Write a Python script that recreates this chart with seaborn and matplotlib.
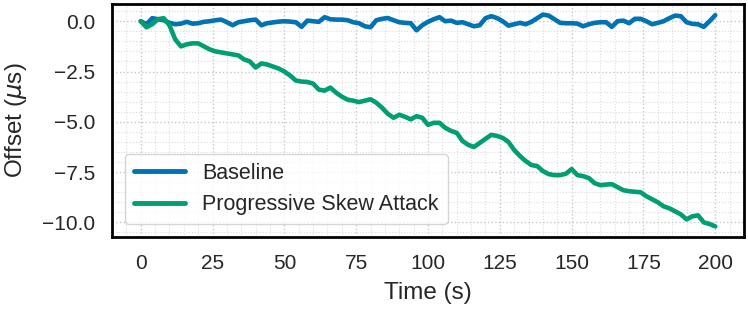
import numpy as np
import pandas as pd
import matplotlib
matplotlib.use("Agg")
import matplotlib.pyplot as plt
import seaborn as sns
from matplotlib.ticker import AutoMinorLocator

# --- DATA (one sample every 2 s) ---
time_s = list(range(0, 201, 2))

baseline = [
    0.0, -0.15, 0.15, 0.1, 0.05, -0.08, -0.15, -0.12, -0.03, -0.12,
    -0.1, -0.03, 0.0, 0.05, 0.08, -0.05, -0.2, -0.05, 0.0, 0.05,
    0.08, -0.2, -0.1, -0.06, -0.02, 0.0, -0.02, -0.05, -0.28, 0.03,
    0.0, -0.03, 0.2, 0.1, 0.08, 0.08, 0.05, -0.05, -0.1, -0.25,
    -0.3, 0.05, 0.12, 0.16, 0.05, -0.05, -0.08, -0.1, -0.45, -0.2,
    -0.03, 0.1, 0.2, 0.0, 0.03, -0.08, -0.05, -0.15, -0.25, -0.2,
    0.15, 0.25, 0.16, 0.0, -0.22, -0.15, -0.08, -0.15, -0.03, 0.15,
    0.33, 0.28, 0.1, -0.08, -0.1, -0.1, -0.12, -0.25, -0.15, -0.08,
    -0.05, -0.05, -0.28, 0.0, 0.03, -0.1, 0.12, 0.12, 0.0, -0.15,
    -0.08, 0.0, 0.15, 0.28, 0.25, -0.05, -0.13, -0.15, -0.28, 0.0,
    0.3,
]

skew_attack = [
    0.0, -0.3, -0.15, 0.1, 0.15, -0.2, -0.9, -1.25, -1.15, -1.1,
    -1.1, -1.25, -1.4, -1.5, -1.55, -1.6, -1.65, -1.7, -1.9, -2.0,
    -2.3, -2.1, -2.15, -2.25, -2.35, -2.5, -2.7, -2.95, -3.0, -3.02,
    -3.1, -3.4, -3.45, -3.3, -3.55, -3.75, -3.9, -3.95, -4.02, -3.95,
    -3.88, -4.05, -4.3, -4.6, -4.8, -4.65, -4.75, -4.88, -4.72, -4.8,
    -5.15, -5.05, -5.05, -5.3, -5.45, -5.55, -5.95, -6.15, -6.25, -6.05,
    -5.85, -5.65, -5.7, -5.8, -6.0, -6.4, -6.7, -6.95, -7.15, -7.2,
    -7.45, -7.6, -7.65, -7.65, -7.58, -7.35, -7.65, -7.7, -7.8, -8.05,
    -8.15, -8.12, -8.1, -8.25, -8.4, -8.45, -8.48, -8.5, -8.7, -8.85,
    -9.0, -9.2, -9.3, -9.45, -9.6, -9.85, -9.7, -9.65, -10.0, -10.08,
    -10.2,
]

series_names = ["Baseline", "Progressive Skew Attack"]

df = pd.concat([
    pd.DataFrame({"Time (s)": time_s, "Offset": baseline, "Series": series_names[0]}),
    pd.DataFrame({"Time (s)": time_s, "Offset": skew_attack, "Series": series_names[1]}),
])

# --- STYLE ---
sns.set_theme(style="whitegrid")
plt.rcParams["font.family"] = ["Liberation Sans", "DejaVu Sans"]

palette = sns.color_palette("colorblind")
colors = {series_names[0]: palette[0], series_names[1]: palette[2]}

fig, ax = plt.subplots(figsize=(7.48, 3.10), dpi=100)
fig.subplots_adjust(left=112 / 748, right=744 / 748, top=1 - 4 / 310, bottom=1 - 237 / 310)

sns.lineplot(data=df, x="Time (s)", y="Offset", hue="Series", palette=colors,
             linewidth=3.3, ax=ax)

ax.set_xlabel("Time (s)", fontsize=17.5, labelpad=7)
ax.set_ylabel(r"Offset ($\mu$s)", fontsize=17.5, labelpad=9.5)
ax.set_xticks(range(0, 201, 25))
ax.set_yticks([0.0, -2.5, -5.0, -7.5, -10.0])
ax.tick_params(axis="both", which="both", labelsize=15, length=0, pad=12)

ax.xaxis.set_minor_locator(AutoMinorLocator(5))
ax.yaxis.set_minor_locator(AutoMinorLocator(5))
ax.grid(which="major", linestyle=":", linewidth=1.0, color="#c8c8c8")
ax.grid(which="minor", linestyle=":", linewidth=0.8, color="#dddddd")

for side in ax.spines.values():
    side.set_color("black")
    side.set_linewidth(2)

leg = ax.legend(loc="lower left", fontsize=15.5, handlelength=2.4, title=None,
                borderaxespad=0.6)
for line in leg.get_lines():
    line.set_linewidth(3.5)

fig.savefig("out.png", dpi=100)
